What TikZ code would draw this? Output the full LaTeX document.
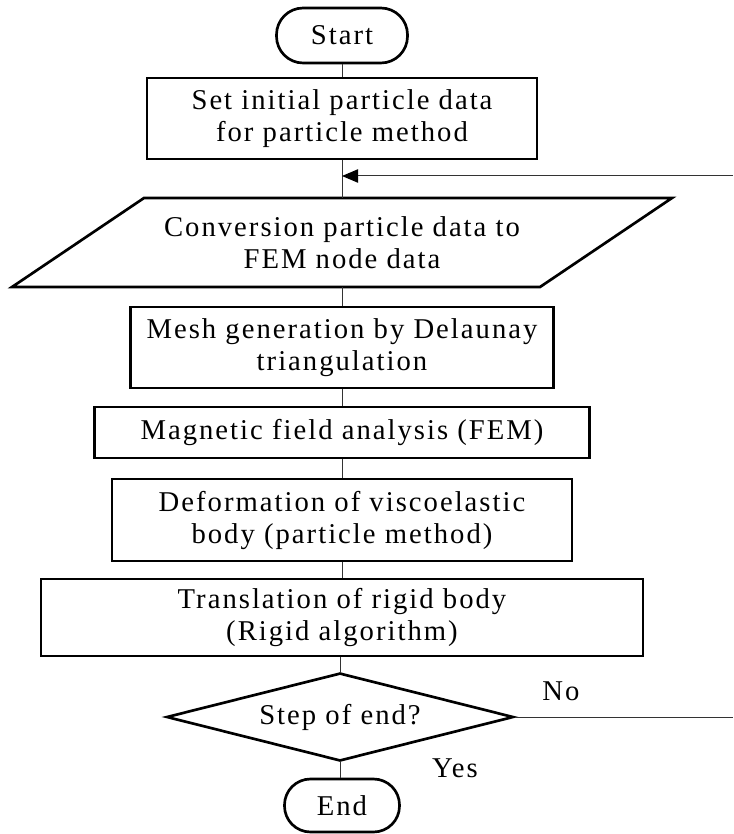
\documentclass[tikz,border=0pt]{standalone}
\usepackage{fontspec}
\setmainfont{Liberation Serif}[LetterSpace=7]
\usetikzlibrary{shapes.geometric,arrows.meta}
\tikzset{
  txt/.style={font=\fontsize{21.5}{24}\selectfont},
  frame/.style={draw=black, line width=2pt, inner sep=0pt, align=center, txt},
  procbox/.style={frame, rectangle},
  pill/.style={frame, rectangle, rounded corners=#1},
  decision/.style={frame, diamond, aspect=3.9},
  conn/.style={draw=black!80, line width=0.75pt},
  lbl/.style={inner sep=0pt, txt},
}
\begin{document}
\begin{tikzpicture}[x=0.75pt,y=-0.75pt]
\useasboundingbox (0,0) rectangle (733,834);
\node[pill=20pt, minimum width=98.25pt, minimum height=41.25pt] (start) at (342,35.5) {Start};
\node[procbox, minimum width=292.5pt, minimum height=60.75pt] (init) at (342,118.5) {Set initial particle data\\for particle method};
\node[inner sep=0pt, align=center, minimum height=66.75pt, txt] (conv) at (342,242.5) {Conversion particle data to\\FEM node data};
\draw[line width=2pt, line join=miter] (144,198) -- (672,198) -- (540,287) -- (12,287) -- cycle;
\node[procbox, minimum width=317.25pt, minimum height=60.75pt] (mesh) at (342,347.5) {Mesh generation by Delaunay\\triangulation};
\node[procbox, minimum width=371.25pt, minimum height=38.25pt] (mag) at (342,432.5) {Magnetic field analysis (FEM)};
\node[procbox, minimum width=345pt, minimum height=61.5pt] (deform) at (342,520) {Deformation of viscoelastic\\body (particle method)};
\node[procbox, minimum width=451.5pt, minimum height=57.75pt] (trans) at (342,617.5) {Translation of rigid body\\(Rigid algorithm)};
\node[decision, minimum width=260.25pt, minimum height=66pt] (dec) at (340,717) {Step of end?};
\node[pill=19.5pt, minimum width=86.25pt, minimum height=39.75pt] (end) at (342,805.5) {End};
\node[lbl] (no) at (561,691) {No};
\node[lbl] (yes) at (455,768) {Yes};
\coordinate (fb) at (733,176);
\coordinate (join) at (342,176);
\coordinate (nr) at (733,717);
\draw[conn] (start) -- (init);
\draw[conn] (init) -- (conv.north);
\draw[conn, -{Triangle[length=12pt,width=10pt,color=black]}] (fb) -- (join);
\draw[conn] (conv.south) -- (mesh);
\draw[conn] (mesh) -- (mag);
\draw[conn] (mag) -- (deform);
\draw[conn] (deform) -- (trans);
\draw[conn] (trans.south -| dec.north) -- (dec);
\draw[conn] (dec) -- (end.north -| dec.south);
\draw[conn] (dec.east) -- (nr);
\end{tikzpicture}
\end{document}
